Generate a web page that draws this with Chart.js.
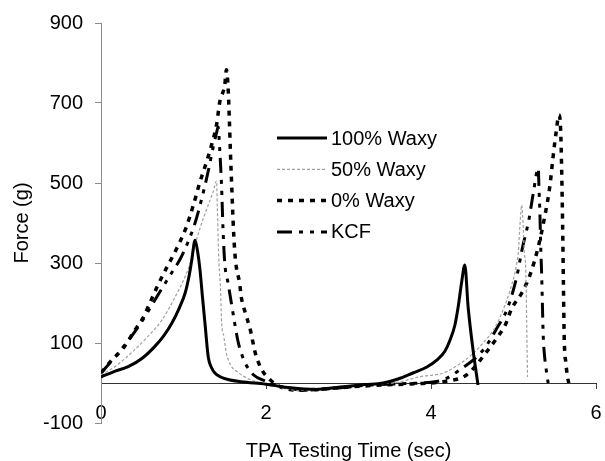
<!DOCTYPE html>
<html><head><meta charset="utf-8">
<script src="https://cdn.jsdelivr.net/npm/chart.js@4.4.0/dist/chart.umd.min.js"></script>
<style>html,body{margin:0;padding:0;background:#fff}#wrap{width:605px;height:461px}</style>
</head><body><div id="wrap"><canvas id="c" width="605" height="461"></canvas></div>
<script>
const seriesNames = ['100% Waxy', '50% Waxy', '0% Waxy', 'KCF'];
const xTicks = [0, 2, 4, 6];
const yTicks = [-100, 100, 300, 500, 700, 900];
const xTitle = 'TPA Testing Time (sec)';
const yTitle = 'Force (g)';

const waxy100Time  = [0, 0.15, 0.33, 0.5, 0.65, 0.76, 0.86, 0.95, 1.02, 1.07, 1.1, 1.14, 1.17, 1.2, 1.23, 1.26, 1.3, 1.34, 1.38, 1.45, 1.55, 1.7, 2.0, 2.3, 2.6, 2.9, 3.2, 3.42, 3.6, 3.78, 3.95, 4.07, 4.17, 4.23, 4.29, 4.33, 4.37, 4.41, 4.45, 4.51, 4.57];
const waxy100Force = [15, 28, 41, 62, 91, 118, 150, 188, 225, 270, 307, 357, 330, 283, 215, 150, 65, 38, 25, 15, 8, 3, -3, -12, -16, -10, -4, 0, 10, 25, 40, 57, 80, 107, 145, 191, 250, 295, 190, 82, -5];

const waxy50Time  = [0, 0.17, 0.35, 0.53, 0.74, 0.9, 1.02, 1.08, 1.14, 1.2, 1.3, 1.36, 1.40, 1.41, 1.42, 1.43, 1.45, 1.46, 1.49, 1.52, 1.57, 1.65, 1.77, 1.9, 2.1, 2.4, 2.7, 3.0, 3.4, 3.6, 3.87, 4.15, 4.35, 4.5, 4.63, 4.75, 4.84, 4.96, 5.04, 5.06, 5.08, 5.10, 5.12, 5.13, 5.15, 5.16, 5.17];
const waxy50Force = [20, 41, 72, 108, 158, 216, 266, 299, 345, 387, 445, 478, 505, 440, 360, 300, 230, 160, 115, 75, 45, 28, 12, 2, -8, -18, -15, -8, -2, 2, 16, 25, 48, 72, 100, 130, 166, 233, 299, 330, 400, 445, 380, 330, 275, 150, 15];

const waxy0Time  = [0, 0.13, 0.27, 0.41, 0.51, 0.59, 0.69, 0.8, 0.91, 1.03, 1.12, 1.2, 1.28, 1.34, 1.40, 1.44, 1.50, 1.52, 1.54, 1.555, 1.57, 1.585, 1.60, 1.62, 1.64, 1.68, 1.70, 1.75, 1.81, 1.87, 1.95, 2.05, 2.17, 2.4, 2.7, 3.0, 3.4, 3.8, 4.2, 4.43, 4.69, 4.81, 4.9, 4.98, 5.1, 5.2, 5.3, 5.38, 5.44, 5.48, 5.52, 5.55, 5.57, 5.585, 5.595, 5.605, 5.615, 5.635, 5.655, 5.67];
const waxy0Force = [25, 57, 87, 132, 163, 199, 245, 290, 333, 388, 445, 503, 553, 595, 645, 703, 745, 783, 741, 663, 570, 490, 410, 332, 290, 250, 215, 175, 133, 75, 33, 8, -9, -18, -15, -10, -5, -2, 5, 20, 82, 116, 145, 187, 225, 270, 340, 418, 491, 566, 632, 670, 640, 520, 400, 250, 110, 50, 15, 0];

const kcfTime  = [0, 0.17, 0.45, 0.72, 0.84, 0.96, 1.05, 1.14, 1.22, 1.3, 1.36, 1.40, 1.42, 1.44, 1.46, 1.48, 1.5, 1.54, 1.58, 1.62, 1.66, 1.70, 1.76, 1.85, 1.99, 2.2, 2.5, 2.8, 3.2, 3.6, 4.0, 4.15, 4.35, 4.63, 4.81, 4.92, 5.04, 5.1, 5.19, 5.24, 5.30, 5.31, 5.32, 5.33, 5.34, 5.35, 5.36, 5.38, 5.40, 5.42];
const kcfForce = [25, 65, 140, 230, 270, 310, 350, 400, 460, 530, 590, 625, 640, 580, 500, 380, 300, 250, 200, 150, 105, 75, 45, 20, 5, -10, -18, -14, -6, -2, 2, 8, 33, 82, 141, 183, 266, 330, 412, 475, 537, 480, 425, 340, 280, 200, 120, 60, 28, 0];

function pts(xs, ys) { return xs.map((x, i) => ({x: x, y: ys[i]})); }

const FONT = '"Liberation Sans", Arial, Helvetica, sans-serif';

const styles = [
  {borderColor: '#000000', borderWidth: 3, borderDash: []},
  {borderColor: '#a0a0a0', borderWidth: 1.2, borderDash: [3, 2]},
  {borderColor: '#000000', borderWidth: 3.5, borderDash: [5, 6]},
  {borderColor: '#000000', borderWidth: 3, borderDash: [15, 7, 4, 7, 4, 7]}
];
const seriesData = [
  pts(waxy100Time, waxy100Force),
  pts(waxy50Time, waxy50Force),
  pts(waxy0Time, waxy0Force),
  pts(kcfTime, kcfForce)
];

const insideLegend = {
  id: 'insideLegend',
  afterDatasetsDraw(chart) {
    const ctx = chart.ctx;
    chart.data.datasets.forEach((ds, i) => {
      const y = 138 + i * 31.3;
      ctx.save();
      ctx.strokeStyle = ds.borderColor;
      ctx.lineWidth = ds.borderWidth;
      ctx.setLineDash(ds.borderDash || []);
      ctx.beginPath(); ctx.moveTo(277, y); ctx.lineTo(327, y); ctx.stroke();
      ctx.setLineDash([]);
      ctx.fillStyle = '#000';
      ctx.font = '20px ' + FONT;
      ctx.textAlign = 'left';
      ctx.textBaseline = 'middle';
      ctx.fillText(ds.label, 331, y + 1);
      ctx.restore();
    });
  }
};

new Chart(document.getElementById('c'), {
  type: 'line',
  data: {
    datasets: seriesNames.map((name, i) => Object.assign({
      label: name,
      data: seriesData[i],
      fill: false,
      pointRadius: 0,
      cubicInterpolationMode: 'monotone',
      borderCapStyle: 'butt'
    }, styles[i]))
  },
  options: {
    responsive: false,
    devicePixelRatio: 1,
    animation: false,
    layout: {padding: {left: 0, top: 23, right: 9, bottom: 38}},
    plugins: {legend: {display: false}, tooltip: {enabled: false}},
    scales: {
      x: {
        type: 'linear',
        position: {y: 0},
        min: 0, max: 6,
        afterBuildTicks(s) { s.ticks = xTicks.map(v => ({value: v})); },
        afterFit(s) { s.height = 80; s.paddingLeft = 0; s.paddingRight = 0; },
        grid: {display: true, drawOnChartArea: false, drawTicks: true, tickLength: 5, color: '#444'},
        border: {display: true, color: '#333', width: 1},
        ticks: {padding: 13, color: '#000', font: {family: FONT, size: 20}, maxRotation: 0},
        title: {display: true, text: xTitle, color: '#000', font: {family: FONT, size: 20}, padding: {top: 0, bottom: 0}}
      },
      y: {
        type: 'linear',
        position: 'left',
        min: -100, max: 900,
        afterBuildTicks(s) { s.ticks = yTicks.map(v => ({value: v})); },
        afterFit(s) { s.width = 101; s.paddingTop = 0; s.paddingBottom = 0; },
        grid: {display: true, drawOnChartArea: false, drawTicks: true, tickLength: 6, color: '#8c8c8c'},
        border: {display: true, color: '#8c8c8c', width: 1},
        ticks: {padding: 12, color: '#000', font: {family: FONT, size: 20}},
        title: {display: true, text: yTitle, color: '#000', font: {family: FONT, size: 20}, padding: {top: 10, bottom: 0}}
      }
    }
  },
  plugins: [insideLegend]
});
</script>
</body></html>
